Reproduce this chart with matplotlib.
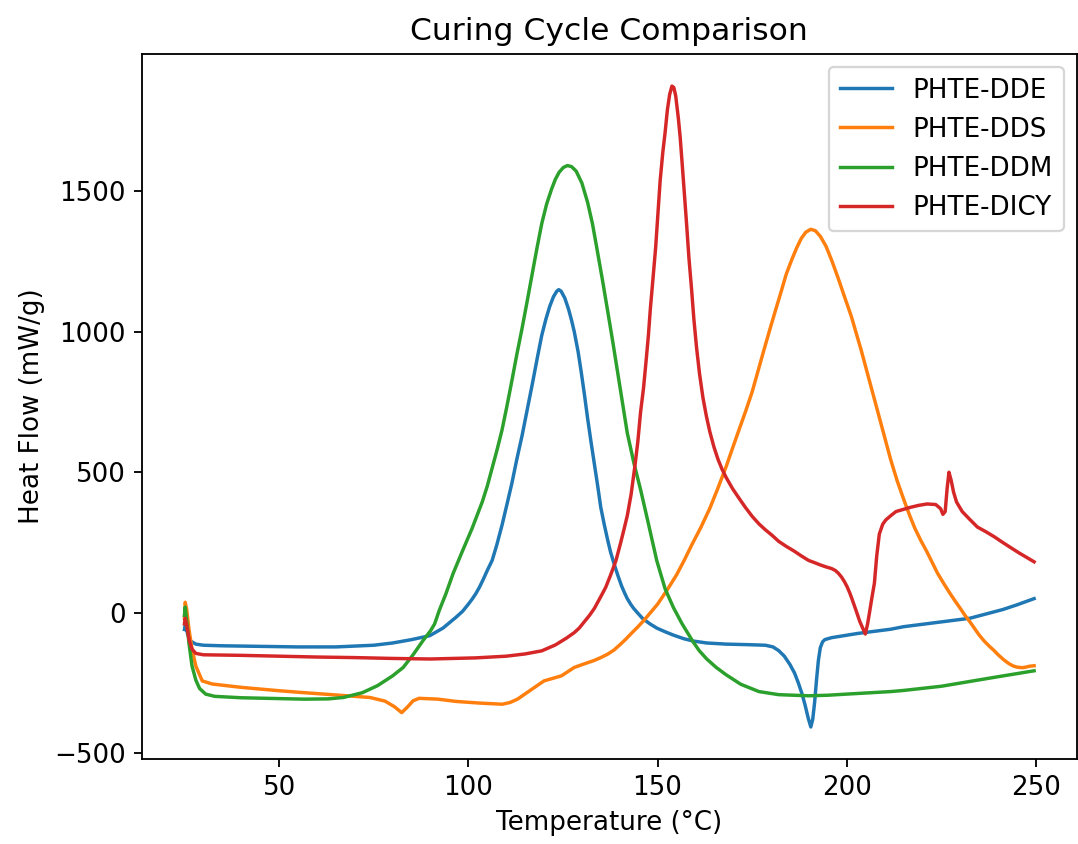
import numpy as np
import matplotlib
matplotlib.use("Agg")
import matplotlib.pyplot as plt

plt.rcParams["font.size"] = 11.4

# PHTE-DDE
T_dde = [25.0, 25.3, 25.8, 26.5, 28, 30, 35, 45, 55, 65, 75, 80, 85, 89.8, 93.3, 96.7,
         98.5, 100, 101, 102, 103, 104, 105, 106.3, 107.5, 108.9, 110.2, 111.5, 112.8,
         114.2, 115.6, 117, 118.2, 119.4, 120.5, 121.5, 122.5, 123.4, 123.9, 124.5, 125.5,
         126.5, 127.3, 128, 129, 129.8, 130.7, 131.5, 132.4, 133.3, 134.2, 135, 135.9,
         136.8, 137.6, 138.5, 139.5, 140.5, 141.3, 142, 143, 143.7, 145, 146, 148, 149.8,
         152, 154.2, 157, 159.4, 163, 168.1, 174, 178.5, 180.5, 182, 183.5, 185, 186.2,
         187.2, 188.2, 189, 189.8, 190.5, 191, 191.5, 192, 192.5, 193, 193.6, 194.2, 196,
         202.9, 211.6, 215, 222, 232.5, 241.2, 245, 249.5]
H_dde = [-60, -35, -75, -100, -112, -116, -118, -120, -122, -122, -116, -108, -96, -82, -55, -17,
         5, 30, 48, 68, 92, 120, 150, 186, 240, 311, 385, 460, 545,
         630, 725, 820, 905, 987, 1045, 1090, 1125, 1145, 1150, 1145, 1120,
         1080, 1040, 1000, 930, 860, 775, 694, 610, 530, 450, 375, 315,
         260, 215, 175, 133, 95, 70, 50, 28, 15, -5, -20, -40, -55,
         -68, -80, -93, -101, -108, -112, -114, -116, -122, -135, -155, -185, -215,
         -250, -290, -330, -375, -407, -380, -320, -240, -170, -125, -104, -96, -89,
         -74, -59, -50, -38, -20, 11, 28, 50]

# PHTE-DDS
T_dds = [25.0, 25.2, 25.6, 26.2, 27, 28, 29.7, 32.3, 40, 50, 56.7, 65, 74, 78, 80.5, 82.4,
         84, 85.4, 87, 92, 96.7, 103, 109, 111, 113, 116, 120, 124.6, 128, 130.5, 133.3,
         135, 136.8, 138.5, 140, 141.5, 143, 144.7, 146.3, 148, 150, 152.5, 155, 157, 159,
         161.5, 163.8, 166, 168.1, 169.8, 171.5, 173.3, 175, 176.5, 178, 179.6, 181.2,
         182.7, 184, 185.5, 186.8, 188, 189.2, 190.5, 191.7, 193, 194.5, 196, 197.7, 199.4,
         201.2, 202.5, 203.8, 205.1, 206.4, 207.7, 209, 210.3, 211.6, 213.3, 215, 216.5,
         218, 219.6, 221.2, 222.6, 224, 225.7, 227.3, 228.7, 230, 231.2, 232.5, 233.8, 235,
         236.3, 237.7, 239, 240, 241.5, 242.9, 244, 245, 246.4, 247.3, 248.2, 249.5]
H_dds = [-20, 37, 10, -60, -130, -190, -243, -254, -266, -278, -285, -293, -302, -315, -335, -356,
         -335, -314, -305, -308, -316, -322, -326, -320, -308, -280, -243, -225, -195, -183, -170,
         -160, -148, -133, -115, -96, -75, -52, -29, -2, 30, 80, 134, 185, 240,
         305, 371, 445, 519, 585, 650, 718, 786, 858, 930, 1005, 1078,
         1145, 1205, 1258, 1300, 1333, 1355, 1365, 1360, 1340, 1305, 1255, 1192, 1125,
         1055, 995, 935, 870, 805, 740, 675, 610, 545, 470, 405, 350,
         300, 256, 216, 178, 140, 102, 68, 40, 15, -9, -32, -57, -80,
         -101, -120, -136, -150, -168, -182, -190, -194, -196, -194, -191, -189]

# PHTE-DDM
T_ddm = [25.0, 25.2, 25.6, 26.2, 27, 28, 29, 30.6, 33, 40, 50, 56.7, 63, 67, 72, 76, 80,
         82.8, 85.4, 88, 90, 91.1, 92.3, 94.1, 96, 98.5, 101, 103.7, 105, 106.3, 107.6,
         108.9, 110.2, 111.5, 112.8, 114.2, 115.5, 116.8, 118.1, 119.4, 120.7, 122, 123,
         124, 125.1, 126.2, 127.3, 128.5, 130, 131.5, 132.8, 134, 135.4, 136.8, 138.2,
         139.5, 140.8, 142, 143.8, 145.5, 147.5, 149.8, 152, 154.2, 156.5, 159.4, 161, 163,
         165.5, 168.1, 172, 176.8, 182, 189.9, 195, 200, 211.6, 215, 225, 232.5, 240, 245,
         249.5]
H_ddm = [-10, 20, -30, -110, -190, -240, -270, -290, -298, -303, -306, -308, -307, -302, -285, -260, -225,
         -195, -150, -100, -65, -40, 7, 68, 140, 221, 300, 395, 450, 515, 580,
         650, 735, 825, 918, 1012, 1105, 1200, 1295, 1385, 1455, 1508, 1543,
         1568, 1585, 1592, 1588, 1572, 1530, 1462, 1385, 1295, 1188, 1076, 962,
         852, 742, 640, 530, 439, 322, 185, 85, 18, -40, -104, -135, -165,
         -195, -221, -255, -281, -292, -296, -294, -290, -281, -277, -262, -245, -228, -217,
         -207]

# PHTE-DICY
T_dicy = [25.0, 25.2, 25.6, 26.2, 27, 28, 30, 40, 50, 60, 70, 80, 90, 102, 110, 115, 119.4,
          123, 126, 128, 129.3, 130.5, 132, 133.3, 135, 136.3, 137.6, 139, 140.2, 141.2, 142,
          143, 144, 144.8, 145.5, 146.3, 147, 147.6, 148.1, 148.8, 149.5, 150.1, 150.7,
          151.4, 152, 152.6, 153.2, 153.8, 154.3, 154.8, 155.5, 156, 156.5, 157.1, 157.7,
          158.3, 159, 159.6, 160.3, 161.1, 162, 162.9, 163.8, 164.9, 166, 167, 168.1, 169.8,
          171.5, 173.2, 175, 176.8, 178.5, 180.3, 182, 184, 186, 188, 189.9, 191.5, 193,
          194.5, 196, 197, 197.8, 198.6, 199.4, 200.1, 200.8, 201.4, 202, 202.7, 203.4,
          204.2, 204.9, 205.5, 206, 206.6, 207.3, 207.9, 208.6, 209.5, 210.3, 211.6, 213,
          216.8, 219, 221.2, 223.5, 224.8, 225.4, 226.0, 226.5, 227, 227.6, 228.2, 229,
          230.5, 232.5, 234.5, 236.9, 239, 241.2, 243.5, 245.6, 247.5, 249.5]
H_dicy = [-40, -20, -45, -95, -130, -145, -150, -152, -155, -158, -160, -163, -165, -161, -155, -147, -136,
          -115, -90, -71, -55, -35, -10, 15, 57, 90, 134, 185, 246, 300, 345,
          420, 520, 610, 712, 800, 900, 990, 1082, 1190, 1300, 1420, 1540,
          1640, 1710, 1790, 1845, 1875, 1870, 1840, 1760, 1690, 1600, 1490, 1379,
          1262, 1150, 1045, 945, 850, 765, 700, 645, 590, 545, 512, 482, 442,
          408, 375, 343, 316, 295, 275, 254, 236, 220, 202, 186, 178, 170,
          163, 157, 150, 140, 127, 110, 92, 70, 48, 25, -2, -30,
          -55, -76, -40, 0, 50, 105, 200, 280, 315, 330, 345, 360,
          375, 382, 387, 385, 370, 350, 360, 440, 500, 470, 430, 394,
          360, 332, 305, 287, 270, 250, 230, 212, 197, 181]

fig = plt.figure(figsize=(1078 / 165, 844 / 165), dpi=165)
ax = fig.add_axes([0.1317, 0.1007, 0.867, 0.8353])

ax.plot(T_dde, H_dde, label="PHTE-DDE")
ax.plot(T_dds, H_dds, label="PHTE-DDS")
ax.plot(T_ddm, H_ddm, label="PHTE-DDM")
ax.plot(T_dicy, H_dicy, label="PHTE-DICY")

ax.set_xlabel("Temperature (°C)")
ax.set_ylabel("Heat Flow (mW/g)")
ax.set_title("Curing Cycle Comparison")
ax.legend(loc="upper right")

fig.savefig("out.png", dpi=165)
